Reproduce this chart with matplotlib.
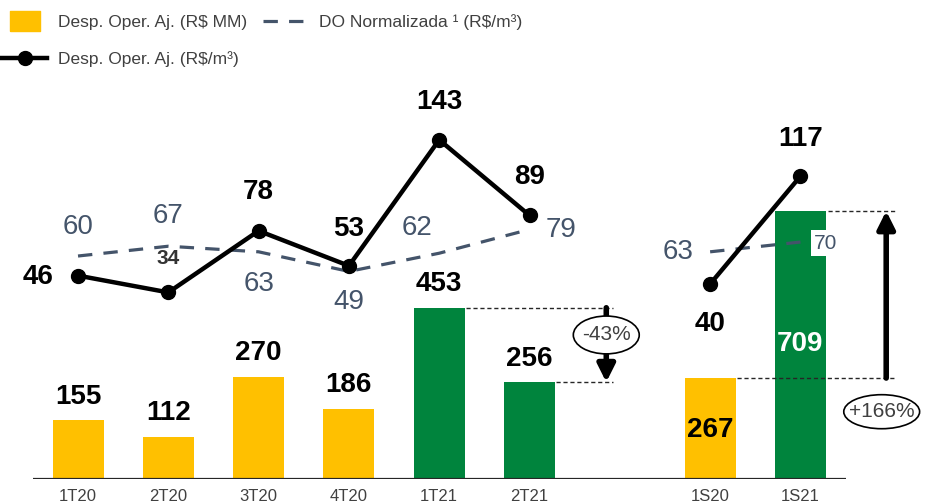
import matplotlib
matplotlib.use('Agg')
import matplotlib.pyplot as plt
from matplotlib.patches import Ellipse
from matplotlib.lines import Line2D
from matplotlib import font_manager

# fuente estrecha tipo Arial Narrow si existe
nombres = set(f.name for f in font_manager.fontManager.ttflist)
if 'Liberation Sans Narrow' in nombres:
    plt.rcParams['font.family'] = ['Liberation Sans Narrow', 'DejaVu Sans']
else:
    plt.rcParams['font.family'] = ['Liberation Sans', 'DejaVu Sans']

# datos
periodos = ['1T20', '2T20', '3T20', '4T20', '1T21', '2T21', '1S20', '1S21']
pos = [0, 1, 2, 3, 4, 5, 7, 8]
desp_mm = [155, 112, 270, 186, 453, 256, 267, 709]
desp_m3 = [46, 34, 78, 53, 143, 89, 40, 117]
do_norm = [60, 67, 63, 49, 62, 79, 63, 70]
var_tri = '-43%'
var_sem = '+166%'

amarillo = '#FFC000'
verde = '#00843D'
azul = '#44546A'
colores = [amarillo] * 4 + [verde] * 2 + [amarillo, verde]

fig = plt.figure(figsize=(9.3, 5.04), dpi=100)
ax = fig.add_axes([0, 25 / 504, 1, 479 / 504])
ax2 = ax.twinx()
ax.set_xlim(-0.864, 9.435)
ax.set_ylim(0, 1267)
ax2.set_ylim(-99.3, 242.9)
for a in (ax, ax2):
    for s in a.spines.values():
        s.set_visible(False)
ax.set_yticks([])
ax2.set_yticks([])

# barras
ax.bar(pos, desp_mm, width=0.565, color=colores, zorder=2)
ax.hlines(0, -0.5, 8.5, color='#262626', lw=1.6, zorder=3)
ax.set_xticks(pos)
ax.set_xticklabels(periodos, fontsize=12, color='#404040')
ax.tick_params(axis='x', length=0, pad=7)

for i in range(6):
    ax.text(pos[i], desp_mm[i] + 28, str(desp_mm[i]), ha='center', va='bottom',
            fontsize=20, fontweight='bold', color='black')
ax.text(pos[6], desp_mm[6] / 2 - 5, str(desp_mm[6]), ha='center', va='center',
        fontsize=20, fontweight='bold', color='black')
ax.text(pos[7], desp_mm[7] / 2 + 3, str(desp_mm[7]), ha='center', va='center',
        fontsize=20, fontweight='bold', color='white')

# lineas
p1 = pos[:6]
p2 = pos[6:]
ax2.plot(p1, do_norm[:6], color=azul, lw=2.3, dashes=(4.5, 3.5), zorder=4)
ax2.plot(p2, do_norm[6:], color=azul, lw=2.3, dashes=(4.5, 3.5), zorder=4)
ax2.plot(p1, desp_m3[:6], color='black', lw=3.2, marker='o', ms=10, zorder=5)
ax2.plot(p2, desp_m3[6:], color='black', lw=3.2, marker='o', ms=10, zorder=5)

# etiquetas linea negra (desplazamiento en pixeles)
off_neg = [(-40, -1), (0, 34), (0, 39), (0, 37), (0, 38), (0, 38), (0, -40), (0, 37)]
for i in range(8):
    dx, dy = off_neg[i]
    tam = 15 if i == 1 else 20
    col = '#333333' if i == 1 else 'black'
    ax2.annotate(str(desp_m3[i]), (pos[i], desp_m3[i]), xytext=(dx * 0.72, dy * 0.72),
                 textcoords='offset points', ha='center', va='center',
                 fontsize=tam, fontweight='bold', color=col, zorder=6)

# etiquetas linea punteada
off_do = [(0, 29), (0, 30), (0, -32), (0, -31), (-22, 25), (32, -1), (-32, 0), (25, -1)]
for i in range(8):
    dx, dy = off_do[i]
    if i == 7:
        ax2.annotate(str(do_norm[i]), (pos[i], do_norm[i]), xytext=(dx * 0.72, dy * 0.72),
                     textcoords='offset points', ha='center', va='center',
                     fontsize=15, color=azul, zorder=6,
                     bbox=dict(boxstyle='square,pad=0.15', fc='white', ec='none'))
    else:
        ax2.annotate(str(do_norm[i]), (pos[i], do_norm[i]), xytext=(dx * 0.72, dy * 0.72),
                     textcoords='offset points', ha='center', va='center',
                     fontsize=20, color=azul, zorder=6)

# variacion trimestral
ax.hlines(desp_mm[4], 4.3, 5.93, color='#262626', lw=1, linestyles=(0, (3, 2)), zorder=3)
ax.hlines(desp_mm[5], 5.29, 5.93, color='#262626', lw=1, linestyles=(0, (3, 2)), zorder=3)
ax.annotate('', xy=(5.85, desp_mm[5]), xytext=(5.85, desp_mm[4]),
            arrowprops=dict(arrowstyle='-|>', lw=4, color='black', mutation_scale=26,
                            shrinkA=0, shrinkB=0), zorder=4)
ax.add_patch(Ellipse((5.85, 381), 0.73, 100, fc='white', ec='black', lw=1.2, zorder=5))
ax.text(5.85, 381, var_tri, ha='center', va='center', fontsize=15, color='#404040', zorder=6)

# variacion semestral
ax.hlines(desp_mm[6], 7.3, 9.05, color='#262626', lw=1, linestyles=(0, (3, 2)), zorder=3)
ax.hlines(desp_mm[7], 8.3, 9.05, color='#262626', lw=1, linestyles=(0, (3, 2)), zorder=3)
ax.annotate('', xy=(8.95, desp_mm[7]), xytext=(8.95, desp_mm[6]),
            arrowprops=dict(arrowstyle='-|>', lw=4, color='black', mutation_scale=26,
                            shrinkA=0, shrinkB=0), zorder=4)
ax.add_patch(Ellipse((8.9, 178), 0.84, 90, fc='white', ec='black', lw=1.2, zorder=5))
ax.text(8.9, 178, var_sem, ha='center', va='center', fontsize=15, color='#404040', zorder=6)

# leyenda
rect = [(-1.4, -1), (1.4, -1), (1.4, 1), (-1.4, 1), (-1.4, -1)]
h_barra = Line2D([], [], marker=rect, ms=21, color=amarillo, ls='none')
h_negra = Line2D([], [], color='black', lw=3.2, marker='o', ms=10)
h_azul = Line2D([], [], color=azul, lw=2.3, dashes=(4.5, 3.5))
fig.legend([h_barra, h_negra, h_azul],
           ['Desp. Oper. Aj. (R$ MM)', 'Desp. Oper. Aj. (R$/m³)', 'DO Normalizada ¹ (R$/m³)'],
           ncol=2, loc='upper left', bbox_to_anchor=(2 / 930, 1 - 14 / 504), frameon=False,
           fontsize=12.5, labelcolor='#404040', handlelength=2.6, handletextpad=0.6,
           columnspacing=0.95, labelspacing=1.2, borderpad=0, borderaxespad=0)

fig.savefig('out.png', dpi=100)
